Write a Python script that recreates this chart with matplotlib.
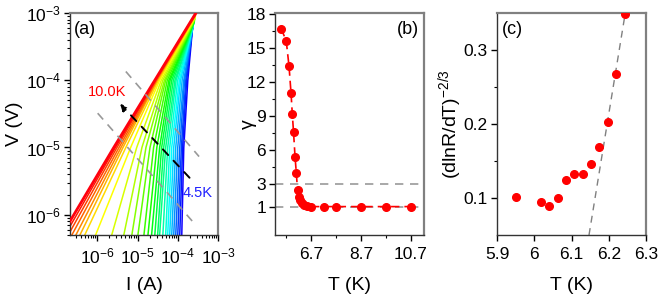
import numpy as np
import matplotlib
matplotlib.use("Agg")
import matplotlib.pyplot as plt
from matplotlib.ticker import FixedLocator, LogLocator, NullFormatter

plt.rcParams["font.family"] = ["Liberation Sans", "DejaVu Sans"]
plt.rcParams["mathtext.fontset"] = "custom"
plt.rcParams["mathtext.rm"] = "Liberation Sans"
plt.rcParams["mathtext.it"] = "Liberation Sans:italic"
plt.rcParams["axes.unicode_minus"] = False

# ---- (a) I-V curves, 10.0 K (red) down to 4.5 K (blue) ----
# log10(I) read at log10(V) = -6.3, -5, -4, then the end point of each curve
LOG_V_READ = [-6.3, -5.0, -4.0]
LOG_I_LOW = [-6.88, -6.80, -6.72, -6.63, -6.53, -6.43, -6.31, -6.04, -5.64, -5.34,
             -5.14, -4.99, -4.84, -4.74, -4.65, -4.57, -4.50, -4.45, -4.37, -4.30,
             -4.25, -4.20, -4.15, -4.10, -4.05, -4.00, -3.95, -3.90]
LOG_I_MID = [-5.59, -5.55, -5.51, -5.46, -5.41, -5.36, -5.29, -5.17, -5.02, -4.89,
             -4.79, -4.69, -4.60, -4.52, -4.45, -4.40, -4.35, -4.30, -4.25, -4.20,
             -4.15, -4.10, -4.05, -4.00, -3.95, -3.91, -3.88, -3.85]
LOG_I_HIGH = [-4.57, -4.56, -4.55, -4.53, -4.52, -4.51, -4.48, -4.45, -4.41, -4.37,
              -4.33, -4.30, -4.26, -4.22, -4.19, -4.15, -4.11, -4.07, -4.04, -4.00,
              -3.96, -3.93, -3.89, -3.85, -3.83, -3.80, -3.78, -3.75]
LOG_I_END = [-3.55, -3.55, -3.55, -3.56, -3.56, -3.56, -3.57, -3.57, -3.57, -3.58,
             -3.58, -3.58, -3.59, -3.59, -3.59, -3.60, -3.60, -3.60, -3.61, -3.61,
             -3.61, -3.62, -3.62, -3.62, -3.62, -3.63, -3.63, -3.63]
LOG_V_END = [-3.00, -3.00, -3.01, -3.02, -3.03, -3.04, -3.05, -3.06, -3.07, -3.08,
             -3.09, -3.10, -3.11, -3.12, -3.13, -3.14, -3.14, -3.15, -3.16, -3.17,
             -3.17, -3.18, -3.18, -3.19, -3.19, -3.20, -3.20, -3.21]

# guide lines in (a): (log10 I, log10 V) end points
GUIDE_UPPER = [(-5.29, -3.87), (-3.47, -5.135)]
GUIDE_LOWER = [(-5.99, -4.49), (-3.595, -6.125)]
ARROW_FROM = (-3.66, -5.48)
ARROW_TO = (-5.48, -4.32)

# ---- (b) exponent gamma vs T ----
T_GAMMA = [5.51, 5.71, 5.82, 5.90, 5.95, 6.00, 6.06, 6.11, 6.16, 6.21,
           6.27, 6.35, 6.43, 6.53, 6.70, 7.20, 7.70, 8.70, 9.70, 10.70]
GAMMA = [16.68, 15.56, 13.36, 11.0, 9.18, 7.57, 5.41, 4.0, 2.47, 1.88,
         1.59, 1.33, 1.15, 1.05, 1.0, 1.0, 1.0, 1.0, 1.0, 1.0]

# ---- (c) (dlnR/dT)^(-2/3) vs T ----
T_C = [5.950, 6.018, 6.040, 6.063, 6.085, 6.108, 6.130, 6.153, 6.175, 6.198, 6.220, 6.243]
Y_C = [0.101, 0.095, 0.089, 0.100, 0.124, 0.133, 0.133, 0.146, 0.169, 0.203, 0.268, 0.349]
FIT_T = [6.147, 6.245]
FIT_Y = [0.05, 0.352]

RED = "#ff0000"
GREY = "#999999"


def style_axes(ax):
    for side in ("left", "bottom"):
        ax.spines[side].set_color("#333333")
        ax.spines[side].set_linewidth(1.0)
    for side in ("top", "right"):
        ax.spines[side].set_color("#808080")
        ax.spines[side].set_linewidth(1.6)
    ax.tick_params(which="major", direction="out", length=4.5, width=1.0,
                   labelsize=12.5, top=False, right=False)
    ax.tick_params(axis="x", which="major", pad=4)
    ax.tick_params(axis="y", which="major", pad=2)
    ax.tick_params(which="minor", direction="out", length=2.5, width=0.8,
                   top=False, right=False)


fig = plt.figure(figsize=(6.64, 3.0), dpi=100)
ax_a = fig.add_axes([0.1054, 0.2167, 0.2229, 0.74])
ax_b = fig.add_axes([0.4142, 0.2167, 0.2244, 0.74])
ax_c = fig.add_axes([0.7485, 0.2167, 0.2244, 0.74])

# panel (a)
n = len(LOG_I_LOW)
colors = plt.cm.gist_rainbow(np.linspace(0.02, 0.78, n))
for i in reversed(range(n)):
    li = [LOG_I_LOW[i], LOG_I_MID[i], LOG_I_HIGH[i], LOG_I_END[i]]
    lv = LOG_V_READ + [LOG_V_END[i]]
    ax_a.plot(10.0 ** np.array(li), 10.0 ** np.array(lv), color=colors[i],
              lw=2.0 if i == 0 else 1.1, zorder=3 if i == 0 else 2)

for g in (GUIDE_UPPER, GUIDE_LOWER):
    ax_a.plot([10 ** g[0][0], 10 ** g[1][0]], [10 ** g[0][1], 10 ** g[1][1]],
              color=GREY, ls=(0, (5, 4)), lw=1.2, zorder=4)
ax_a.annotate("", xy=(10 ** ARROW_TO[0], 10 ** ARROW_TO[1]),
              xytext=(10 ** ARROW_FROM[0], 10 ** ARROW_FROM[1]),
              arrowprops=dict(arrowstyle="-|>", color="black", lw=1.4,
                              ls=(0, (4, 4)), mutation_scale=10), zorder=5)
ax_a.text(10 ** -6.23, 10 ** -4.17, "10.0K", color=RED, fontsize=10.5,
          ha="left", va="center")
ax_a.text(10 ** -3.876, 10 ** -5.675, "4.5K", color="#2020ff", fontsize=10.5,
          ha="left", va="center")

ax_a.set_xscale("log")
ax_a.set_yscale("log")
ax_a.set_xlim(2.1e-7, 1e-3)
ax_a.set_ylim(5e-7, 1e-3)
ax_a.xaxis.set_major_locator(FixedLocator([1e-6, 1e-5, 1e-4, 1e-3]))
ax_a.yaxis.set_major_locator(FixedLocator([1e-6, 1e-5, 1e-4, 1e-3]))
ax_a.xaxis.set_minor_locator(LogLocator(base=10, subs=np.arange(2, 10), numticks=20))
ax_a.yaxis.set_minor_locator(LogLocator(base=10, subs=np.arange(2, 10), numticks=20))
ax_a.xaxis.set_minor_formatter(NullFormatter())
ax_a.yaxis.set_minor_formatter(NullFormatter())
style_axes(ax_a)
ax_a.set_xlabel("I (A)", fontsize=14)
ax_a.set_ylabel("V (V)", fontsize=14)
ax_a.xaxis.set_label_coords(0.5, -0.19)
ax_a.yaxis.set_label_coords(-0.32, 0.5)
ax_a.text(0.1, 0.925, "(a)", transform=ax_a.transAxes, fontsize=13,
          ha="center", va="center")

# panel (b)
ax_b.axhline(3, color=GREY, ls=(0, (5, 4)), lw=1.2, zorder=1)
ax_b.axhline(1, color=GREY, ls=(0, (5, 4)), lw=1.2, zorder=1)
ax_b.plot(T_GAMMA, GAMMA, color=RED, ls=(0, (5, 3)), lw=1.2, marker="o",
          ms=5.5, zorder=3)
ax_b.set_xlim(5.26, 11.22)
ax_b.set_ylim(-1.5, 18.05)
ax_b.xaxis.set_major_locator(FixedLocator([6.7, 8.7, 10.7]))
ax_b.xaxis.set_minor_locator(FixedLocator([5.7, 7.7, 9.7]))
ax_b.yaxis.set_major_locator(FixedLocator([1, 3, 6, 9, 12, 15, 18]))
ax_b.yaxis.set_minor_locator(FixedLocator([4.5, 7.5, 10.5, 13.5, 16.5]))
style_axes(ax_b)
ax_b.set_xlabel("T (K)", fontsize=14)
ax_b.set_ylabel("γ", fontsize=14)
ax_b.xaxis.set_label_coords(0.5, -0.19)
ax_b.yaxis.set_label_coords(-0.12, 0.5)
ax_b.text(0.893, 0.925, "(b)", transform=ax_b.transAxes, fontsize=13,
          ha="center", va="center")

# panel (c)
ax_c.plot(FIT_T, FIT_Y, color="#808080", ls=(0, (5, 4)), lw=1.0, zorder=1)
ax_c.plot(T_C, Y_C, "o", color=RED, ms=5.5, zorder=3)
ax_c.set_xlim(5.9, 6.3)
ax_c.set_ylim(0.05, 0.35)
ax_c.xaxis.set_major_locator(FixedLocator([5.9, 6.0, 6.1, 6.2, 6.3]))
ax_c.set_xticklabels(["5.9", "6", "6.1", "6.2", "6.3"])
ax_c.yaxis.set_major_locator(FixedLocator([0.1, 0.2, 0.3]))
ax_c.yaxis.set_minor_locator(FixedLocator([0.15, 0.25]))
style_axes(ax_c)
ax_c.set_xlabel("T (K)", fontsize=14)
ax_c.set_ylabel("(dlnR/dT)$^{-2/3}$", fontsize=14)
ax_c.xaxis.set_label_coords(0.5, -0.19)
ax_c.yaxis.set_label_coords(-0.22, 0.5)
ax_c.text(0.104, 0.925, "(c)", transform=ax_c.transAxes, fontsize=13,
          ha="center", va="center")

fig.savefig("out.png", dpi=100)
